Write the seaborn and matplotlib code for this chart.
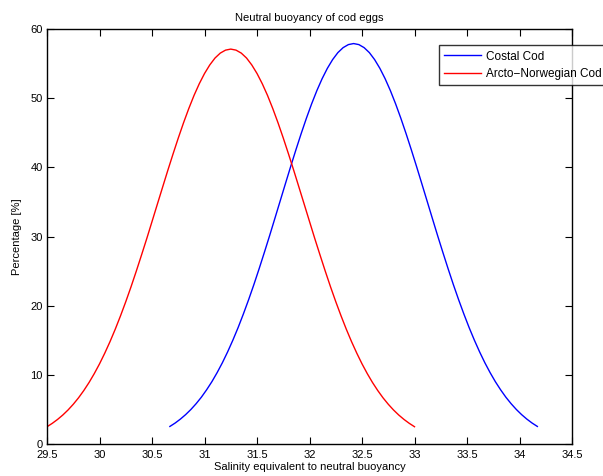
import matplotlib
matplotlib.use("Agg")
import matplotlib.pyplot as plt
import seaborn as sns
import pandas as pd

# Data (percentage vs salinity)
costal_x = [30.67, 30.72, 30.77, 30.82, 30.87, 30.92, 30.97, 31.02, 31.07, 31.12, 31.17, 31.22,
            31.27, 31.32, 31.37, 31.42, 31.47, 31.52, 31.57, 31.62, 31.67, 31.72, 31.77, 31.82,
            31.87, 31.92, 31.97, 32.02, 32.07, 32.12, 32.17, 32.22, 32.27, 32.32, 32.37, 32.42,
            32.47, 32.52, 32.57, 32.62, 32.67, 32.72, 32.77, 32.82, 32.87, 32.92, 32.97, 33.02,
            33.07, 33.12, 33.17, 33.22, 33.27, 33.32, 33.37, 33.42, 33.47, 33.52, 33.57, 33.62,
            33.67, 33.72, 33.77, 33.82, 33.87, 33.92, 33.97, 34.02, 34.07, 34.12, 34.17]
costal_y = [2.54, 3.03, 3.60, 4.25, 4.99, 5.83, 6.77, 7.84, 9.01, 10.32, 11.75, 13.32,
            15.02, 16.84, 18.80, 20.87, 23.05, 25.34, 27.71, 30.13, 32.62, 35.12, 37.62, 40.10,
            42.52, 44.86, 47.09, 49.18, 51.10, 52.82, 54.32, 55.58, 56.59, 57.31, 57.75, 57.90,
            57.75, 57.31, 56.59, 55.58, 54.32, 52.82, 51.10, 49.18, 47.09, 44.86, 42.52, 40.10,
            37.62, 35.12, 32.62, 30.13, 27.71, 25.34, 23.05, 20.87, 18.80, 16.84, 15.02, 13.32,
            11.75, 10.32, 9.01, 7.84, 6.77, 5.83, 4.99, 4.25, 3.60, 3.03, 2.54]

arcto_x = [29.50, 29.55, 29.60, 29.65, 29.70, 29.75, 29.80, 29.85, 29.90, 29.95, 30.00, 30.05,
           30.10, 30.15, 30.20, 30.25, 30.30, 30.35, 30.40, 30.45, 30.50, 30.55, 30.60, 30.65,
           30.70, 30.75, 30.80, 30.85, 30.90, 30.95, 31.00, 31.05, 31.10, 31.15, 31.20, 31.25,
           31.30, 31.35, 31.40, 31.45, 31.50, 31.55, 31.60, 31.65, 31.70, 31.75, 31.80, 31.85,
           31.90, 31.95, 32.00, 32.05, 32.10, 32.15, 32.20, 32.25, 32.30, 32.35, 32.40, 32.45,
           32.50, 32.55, 32.60, 32.65, 32.70, 32.75, 32.80, 32.85, 32.90, 32.95, 33.00]
arcto_y = [2.50, 2.99, 3.55, 4.19, 4.92, 5.75, 6.68, 7.73, 8.89, 10.18, 11.59, 13.14,
           14.81, 16.61, 18.54, 20.58, 22.73, 24.99, 27.33, 29.71, 32.17, 34.64, 37.10, 39.55,
           41.93, 44.24, 46.44, 48.50, 50.40, 52.09, 53.57, 54.81, 55.81, 56.52, 56.95, 57.10,
           56.95, 56.52, 55.81, 54.81, 53.57, 52.09, 50.40, 48.50, 46.44, 44.24, 41.93, 39.55,
           37.10, 34.64, 32.17, 29.71, 27.33, 24.99, 22.73, 20.58, 18.54, 16.61, 14.81, 13.14,
           11.59, 10.18, 8.89, 7.73, 6.68, 5.75, 4.92, 4.19, 3.55, 2.99, 2.50]

series_names = ["Costal Cod", "Arcto\u2212Norwegian Cod"]
x_ticks = [29.5, 30, 30.5, 31, 31.5, 32, 32.5, 33, 33.5, 34, 34.5]
x_tick_labels = ["29.5", "30", "30.5", "31", "31.5", "32", "32.5", "33", "33.5", "34", "34.5"]
y_ticks = [0, 10, 20, 30, 40, 50, 60]

df = pd.concat([
    pd.DataFrame({"x": costal_x, "y": costal_y, "series": series_names[0]}),
    pd.DataFrame({"x": arcto_x, "y": arcto_y, "series": series_names[1]}),
])

plt.rcParams["font.family"] = ["Liberation Sans", "DejaVu Sans"]

fig = plt.figure(figsize=(6.03, 4.76), dpi=100)
ax = fig.add_axes([0.078, 0.0672, 0.8706, 0.8718])

sns.lineplot(data=df, x="x", y="y", hue="series", hue_order=series_names,
             palette=["#0000ff", "#ff0000"], linewidth=1.0, ax=ax, estimator=None, sort=False)

ax.set_xlim(29.5, 34.5)
ax.set_ylim(0, 60)
ax.set_xticks(x_ticks)
ax.set_xticklabels(x_tick_labels)
ax.set_yticks(y_ticks)
ax.tick_params(direction="in", length=5, width=0.8, top=True, right=True, labelsize=8, colors="black")
ax.tick_params(axis="x", pad=4.5)
ax.tick_params(axis="y", pad=3)
for s in ax.spines.values():
    s.set_linewidth(1.0)
    s.set_color("black")

ax.set_title("Neutral buoyancy of cod eggs", fontsize=8, pad=6)
ax.set_xlabel("Salinity equivalent to neutral buoyancy", fontsize=8, labelpad=1)
ax.set_ylabel("Percentage [%]", fontsize=8, labelpad=6)

leg = ax.legend(loc="upper left", bbox_to_anchor=(0.7467, 0.961), borderaxespad=0,
                fontsize=8.5, frameon=True, fancybox=False, handlelength=3.1,
                borderpad=0.45, labelspacing=0.45, handletextpad=0.45)
leg.get_frame().set_edgecolor("black")
leg.get_frame().set_linewidth(1.0)
leg.set_clip_on(False)

fig.savefig("out.png", dpi=100)
